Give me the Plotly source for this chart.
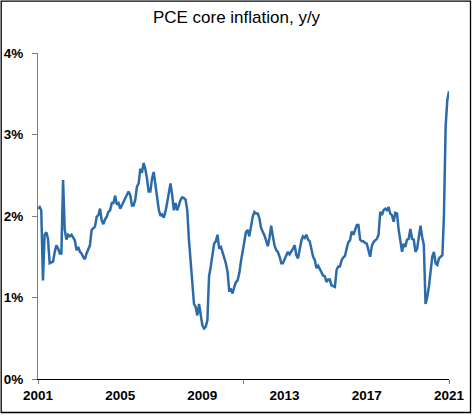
import plotly.graph_objects as go
import pandas as pd

# Core PCE inflation, y/y (%), monthly Jan 2001 - Jun 2021
v2001 = [2.09, 2.11, 2.07, 1.21, 1.77, 1.80, 1.72, 1.42, 1.43, 1.44, 1.56, 1.64]
v2002 = [1.60, 1.54, 1.54, 2.44, 1.83, 1.71, 1.77, 1.75, 1.77, 1.74, 1.70, 1.58]
v2003 = [1.62, 1.56, 1.54, 1.50, 1.47, 1.54, 1.60, 1.64, 1.83, 1.85, 1.87, 1.99]
v2004 = [2.01, 2.09, 1.95, 1.90, 1.96, 1.99, 2.05, 2.07, 2.16, 2.16, 2.25, 2.14]
v2005 = [2.16, 2.09, 2.13, 2.17, 2.20, 2.26, 2.30, 2.26, 2.13, 2.13, 2.20, 2.36]
v2006 = [2.40, 2.58, 2.53, 2.65, 2.58, 2.46, 2.30, 2.30, 2.46, 2.54, 2.38, 2.22]
v2007 = [2.08, 2.00, 2.02, 1.98, 2.05, 2.16, 2.30, 2.40, 2.26, 2.07, 2.16, 2.07]
v2008 = [2.13, 2.20, 2.23, 2.22, 2.20, 2.07, 1.71, 1.42, 1.13, 0.92, 0.88, 0.78]
v2009 = [0.92, 0.80, 0.66, 0.62, 0.64, 0.72, 1.26, 1.38, 1.50, 1.66, 1.69, 1.77]
v2010 = [1.60, 1.62, 1.56, 1.50, 1.42, 1.32, 1.09, 1.10, 1.05, 1.13, 1.19, 1.21]
v2011 = [1.30, 1.45, 1.54, 1.68, 1.80, 1.83, 1.75, 1.89, 1.99, 2.05, 2.03, 2.03]
v2012 = [1.97, 1.85, 1.81, 1.76, 1.70, 1.63, 1.73, 1.88, 1.75, 1.64, 1.58, 1.56]
v2013 = [1.50, 1.42, 1.42, 1.47, 1.50, 1.56, 1.53, 1.56, 1.60, 1.64, 1.52, 1.48]
v2014 = [1.62, 1.70, 1.75, 1.73, 1.77, 1.71, 1.69, 1.58, 1.50, 1.46, 1.36, 1.39]
v2015 = [1.35, 1.32, 1.27, 1.26, 1.19, 1.22, 1.22, 1.15, 1.14, 1.13, 1.34, 1.38]
v2016 = [1.38, 1.46, 1.49, 1.51, 1.60, 1.68, 1.70, 1.81, 1.77, 1.83, 1.89, 1.89]
v2017 = [1.71, 1.69, 1.69, 1.67, 1.66, 1.58, 1.50, 1.63, 1.68, 1.70, 1.72, 1.77]
v2018 = [2.05, 2.01, 2.07, 2.09, 2.07, 2.11, 2.03, 2.01, 1.93, 2.04, 2.03, 1.83]
v2019 = [1.66, 1.56, 1.66, 1.62, 1.71, 1.72, 1.84, 1.72, 1.71, 1.56, 1.60, 1.74]
v2020 = [1.88, 1.74, 1.65, 0.92, 1.00, 1.13, 1.32, 1.50, 1.56, 1.42, 1.40, 1.48]
v2021 = [1.50, 1.52, 2.00, 3.10, 3.42, 3.53]

values = (v2001 + v2002 + v2003 + v2004 + v2005 + v2006 + v2007 + v2008 + v2009
          + v2010 + v2011 + v2012 + v2013 + v2014 + v2015 + v2016 + v2017
          + v2018 + v2019 + v2020 + v2021)
dates = pd.date_range("2001-01-01", periods=len(values), freq="MS")

x_label_dates = ["2001-01-01", "2005-02-01", "2009-03-01", "2013-04-01", "2017-05-01", "2021-06-01"]
x_label_text = ["2001", "2005", "2009", "2013", "2017", "2021"]
x_tick_dates = ["2001-01-01", "2011-03-16", "2021-06-01"]
y_tick_vals = [0, 1, 2, 3, 4]
y_tick_text = ["0%", "1%", "2%", "3%", "4%"]

W, H = 473, 415
ML, MR, MT, MB = 38, 24, 53, 36
pw = W - ML - MR
ph = H - MT - MB

FONT = "Liberation Sans, Arial, sans-serif"

fig = go.Figure()
fig.add_trace(go.Scatter(
    x=dates, y=values, mode="lines",
    line=dict(color="#2C6BA9", width=2.5),
    showlegend=False, hoverinfo="skip",
))
# dummy trace to carry the tick-mark-only overlay axis
fig.add_trace(go.Scatter(
    x=[dates[0]], y=[None], xaxis="x2", mode="lines",
    showlegend=False, hoverinfo="skip",
))

rng = ["2001-01-01", "2021-06-01"]
fig.update_layout(
    width=W, height=H,
    margin=dict(l=ML, r=MR, t=MT, b=MB, pad=0, autoexpand=False),
    paper_bgcolor="white", plot_bgcolor="white",
    title=dict(text="PCE core inflation, y/y", x=0.5, xanchor="center",
               y=1 - 17 / H, yanchor="middle", yref="container",
               font=dict(family=FONT, size=17, color="black")),
    xaxis=dict(type="date", range=rng, tickvals=x_label_dates, ticktext=x_label_text,
               ticks="", showgrid=False, zeroline=False, automargin=False,
               showline=True, linecolor="black", linewidth=1,
               tickfont=dict(family=FONT, size=13.5, color="black", weight="bold"),
               ticklabelstandoff=4),
    xaxis2=dict(type="date", range=rng, overlaying="x", anchor="y", side="bottom",
                tickvals=x_tick_dates, showticklabels=False, automargin=False,
                ticks="outside", ticklen=4, tickcolor="#808080", tickwidth=1,
                showgrid=False, zeroline=False, showline=False),
    yaxis=dict(range=[0, 4], tickvals=y_tick_vals, ticktext=y_tick_text,
               ticks="outside", ticklen=5, tickcolor="#808080", tickwidth=1,
               showgrid=False, zeroline=False, automargin=False,
               showline=True, linecolor="#808080", linewidth=1,
               tickfont=dict(family=FONT, size=13.5, color="black", weight="bold"),
               ticklabelstandoff=6),
    shapes=[dict(type="rect", xref="paper", yref="paper",
                 x0=-(ML - 1.2) / pw, x1=(W - ML - 2.5) / pw,
                 y0=-(MB - 2.5) / ph, y1=(ph + MT - 1.2) / ph,
                 line=dict(color="black", width=1.3), fillcolor="rgba(0,0,0,0)",
                 layer="above")],
)

fig.write_html("out.html",
               config={"displayModeBar": False, "staticPlot": True},
               post_script="document.body.style.margin='0';document.body.style.padding='0';")
